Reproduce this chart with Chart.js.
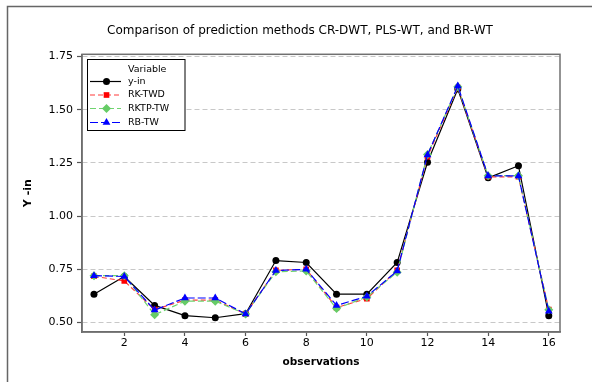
<!DOCTYPE html>
<html>
<head>
<meta charset="utf-8">
<script src="https://cdn.jsdelivr.net/npm/chart.js@4.4.1/dist/chart.umd.min.js"></script>
<style>
  html, body { margin: 0; padding: 0; background: #fff; }
  canvas { display: block; }
</style>
</head>
<body>
<canvas id="chart" width="592" height="382"></canvas>
<script>
// values
const observations = [1, 2, 3, 4, 5, 6, 7, 8, 9, 10, 11, 12, 13, 14, 15, 16];
const yIn    = [0.633, 0.716, 0.580, 0.532, 0.522, 0.541, 0.791, 0.782, 0.633, 0.633, 0.782, 1.253, 1.598, 1.180, 1.237, 0.532];
const rkTwd  = [0.717, 0.695, 0.560, 0.605, 0.605, 0.540, 0.745, 0.750, 0.570, 0.612, 0.745, 1.280, 1.605, 1.185, 1.185, 0.560];
const rktpTw = [0.720, 0.720, 0.536, 0.600, 0.600, 0.540, 0.738, 0.742, 0.565, 0.620, 0.736, 1.290, 1.608, 1.190, 1.190, 0.560];
const rbTw   = [0.720, 0.716, 0.558, 0.615, 0.615, 0.540, 0.744, 0.750, 0.580, 0.623, 0.742, 1.288, 1.612, 1.189, 1.189, 0.553];

const xTicks = [2, 4, 6, 8, 10, 12, 14, 16];
const yTicks = [0.50, 0.75, 1.00, 1.25, 1.50, 1.75];

const TITLE = 'Comparison of prediction methods CR-DWT, PLS-WT, and BR-WT';
const FONT = 'DejaVu Sans, Verdana, sans-serif';

const toPoints = vals => observations.map((x, i) => ({ x, y: vals[i] }));

function series(label, vals, color, lineColor, dash, style, radius, order) {
  return {
    label,
    data: toPoints(vals),
    borderColor: lineColor,
    backgroundColor: color,
    pointBackgroundColor: color,
    pointBorderColor: color,
    pointStyle: style,
    pointRadius: radius,
    pointBorderWidth: 0,
    borderWidth: 1.2,
    borderDash: dash,
    tension: 0,
    order,
  };
}

const datasets = [
  series('y-in', yIn, '#000000', '#000000', [], 'circle', 3.5, 4),
  series('RK-TWD', rkTwd, '#ff0000', '#ff3b3b', [5, 3], 'rect', 4, 3),
  series('RKTP-TW', rktpTw, '#66cc66', '#6fd46f', [6, 3], 'rectRot', 4.5, 2),
  series('RB-TW', rbTw, '#0000ff', '#0000ff', [8, 3], 'triangle', 4.5, 1),
];

// title, outer frame, plot frame and legend box
const decorations = {
  id: 'decorations',
  afterDraw(chart) {
    const ctx = chart.ctx;
    const a = chart.chartArea;
    ctx.save();

    ctx.fillStyle = '#000';
    ctx.font = '12px ' + FONT;
    ctx.textAlign = 'center';
    ctx.textBaseline = 'middle';
    ctx.fillText(TITLE, 300, 31);

    ctx.strokeStyle = '#666';
    ctx.lineWidth = 1.5;
    ctx.beginPath();
    ctx.moveTo(7.5, 382);
    ctx.lineTo(7.5, 6.5);
    ctx.lineTo(592, 6.5);
    ctx.stroke();

    ctx.strokeStyle = '#707070';
    ctx.lineWidth = 1.5;
    ctx.strokeRect(a.left, a.top, a.right - a.left, a.bottom - a.top);

    // legend
    const bx = 87.5, by = 59.5, bw = 97.5, bh = 71;
    ctx.strokeStyle = '#000';
    ctx.lineWidth = 1;
    ctx.fillStyle = '#fff';
    ctx.fillRect(bx, by, bw, bh);
    ctx.strokeRect(bx, by, bw, bh);

    ctx.font = '9.5px ' + FONT;
    ctx.fillStyle = '#000';
    ctx.textBaseline = 'middle';
    ctx.textAlign = 'left';
    ctx.fillText('Variable', 128, 69.5);

    const rows = [81.5, 95, 108.5, 122.5];
    chart.data.datasets.forEach((ds, i) => {
      const y = rows[i];
      ctx.strokeStyle = ds.borderColor;
      ctx.lineWidth = 1.2;
      ctx.setLineDash(ds.borderDash);
      ctx.beginPath();
      ctx.moveTo(90, y);
      ctx.lineTo(121, y);
      ctx.stroke();
      ctx.setLineDash([]);
      ctx.fillStyle = ds.pointBackgroundColor;
      ctx.strokeStyle = ds.pointBorderColor;
      Chart.helpers.drawPoint(ctx, {
        pointStyle: ds.pointStyle, radius: ds.pointRadius, rotation: 0, borderWidth: 0,
      }, 106.5, y);
      ctx.fillStyle = '#000';
      ctx.fillText(ds.label, 128, y);
    });
    ctx.restore();
  },
};

new Chart(document.getElementById('chart'), {
  type: 'line',
  data: { datasets },
  plugins: [decorations],
  options: {
    responsive: false,
    animation: false,
    layout: { padding: { left: 0, right: 32, top: 54.3, bottom: 0 } },
    plugins: {
      legend: { display: false },
      tooltip: { enabled: false },
      title: { display: false },
    },
    scales: {
      x: {
        type: 'linear',
        min: 0.605,
        max: 16.37,
        afterBuildTicks: scale => { scale.ticks = xTicks.map(v => ({ value: v })); },
        afterFit: scale => { scale.height = 50; },
        ticks: {
          color: '#000',
          font: { family: FONT, size: 11 },
          padding: 1,
          maxRotation: 0,
        },
        grid: {
          display: true,
          drawOnChartArea: false,
          drawTicks: true,
          tickLength: 4,
          tickColor: '#555',
          tickWidth: 1.2,
        },
        border: { display: true, color: '#666', width: 1.5 },
        title: {
          display: true,
          text: 'observations',
          color: '#000',
          font: { family: FONT, size: 10.5, weight: 'bold' },
          padding: { top: 0, bottom: 13.5 },
        },
      },
      y: {
        min: 0.455,
        max: 1.761,
        afterBuildTicks: scale => { scale.ticks = yTicks.map(v => ({ value: v })); },
        afterFit: scale => { scale.width = 82; },
        ticks: {
          color: '#000',
          font: { family: FONT, size: 11 },
          padding: 4,
          callback: v => Number(v).toFixed(2),
        },
        grid: {
          color: '#c8c8c8',
          lineWidth: 1,
          drawTicks: true,
          tickLength: 5,
          tickColor: '#555',
          tickWidth: 1.2,
          tickBorderDash: [],
        },
        border: { display: true, color: '#666', width: 1.5, dash: [5, 3] },
        title: {
          display: true,
          text: 'Y -in',
          color: '#000',
          font: { family: FONT, size: 11, weight: 'bold' },
          padding: { top: 22, bottom: 0 },
        },
      },
    },
  },
});
</script>
</body>
</html>
